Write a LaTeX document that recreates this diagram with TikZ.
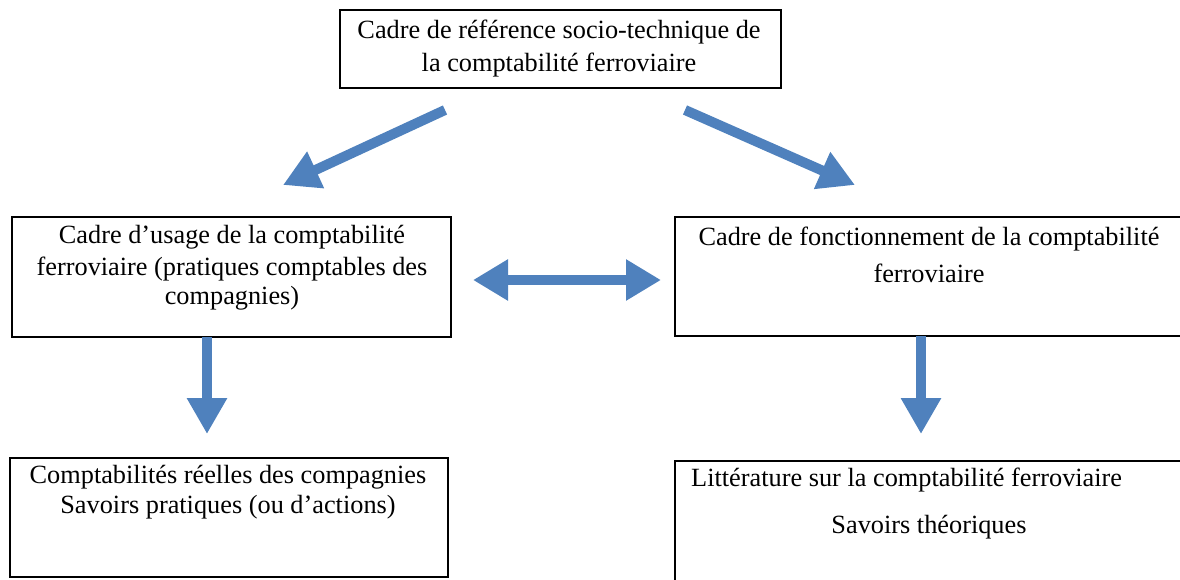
\documentclass[tikz,border=0pt]{standalone}
\usepackage{fontspec}
\setmainfont{Liberation Serif}
\usetikzlibrary{arrows.meta}
\definecolor{officeblue}{RGB}{79,129,189}
\begin{document}
\begin{tikzpicture}[x=1pt,y=-1pt,
  frame/.style={draw=black,line width=2.6pt,rectangle,inner sep=0pt},
  txt/.style={anchor=base,inner sep=0pt,font=\fontsize{26.3}{32}\selectfont},
  bigarrow/.style={draw=officeblue,line width=10pt,-{Triangle[length=36pt,width=38pt]}},
  dblarrow/.style={draw=officeblue,line width=10pt,{Triangle[length=35pt,width=39pt]}-{Triangle[length=35pt,width=39pt]}}]
\useasboundingbox (0,0) rectangle (1180,579);
\clip (0,0) rectangle (1180,579);
% boxes
\node[frame,minimum width=441pt,minimum height=78pt] (top) at (560.5,49) {};
\node[frame,minimum width=439pt,minimum height=120pt] (usage) at (231.5,277) {};
\node[frame,minimum width=540pt,minimum height=119pt] (fonct) at (945,276.5) {};
\node[frame,minimum width=438pt,minimum height=119pt] (reel) at (229,517.5) {};
\node[frame,minimum width=540pt,minimum height=150pt] (litt) at (945,536) {};
% texts
\node[txt] (t1) at (559,38) {Cadre de référence socio-technique de};
\node[txt] (t2) at (559,71) {la comptabilité ferroviaire};
\node[txt] (u1) at (232,243) {Cadre d’usage de la comptabilité};
\node[txt] (u2) at (232,275) {ferroviaire (pratiques comptables des};
\node[txt] (u3) at (232,304) {compagnies)};
\node[txt] (f1) at (929,245) {Cadre de fonctionnement de la comptabilité};
\node[txt] (f2) at (929,282) {ferroviaire};
\node[txt] (r1) at (228,483) {Comptabilités réelles des compagnies};
\node[txt] (r2) at (228,513) {Savoirs pratiques (ou d’actions)};
\node[txt,anchor=base west] (l1) at (691,486) {Littérature sur la comptabilité ferroviaire};
\node[txt] (l2) at (929,533) {Savoirs théoriques};
% arrow end points
\coordinate (a1s) at (445,110);
\coordinate (a1e) at (283,185);
\coordinate (a2s) at (685,110);
\coordinate (a2e) at (855,185);
\coordinate (a3s) at (473,280);
\coordinate (a3e) at (661,280);
\coordinate (a4s) at (207,337);
\coordinate (a4e) at (207,434);
\coordinate (a5s) at (921,336);
\coordinate (a5e) at (921,434);
\draw[bigarrow] (a1s) -- (a1e);
\draw[bigarrow] (a2s) -- (a2e);
\draw[dblarrow] (a3s) -- (a3e);
\draw[bigarrow] (a4s) -- (a4e);
\draw[bigarrow] (a5s) -- (a5e);
\end{tikzpicture}
\end{document}
